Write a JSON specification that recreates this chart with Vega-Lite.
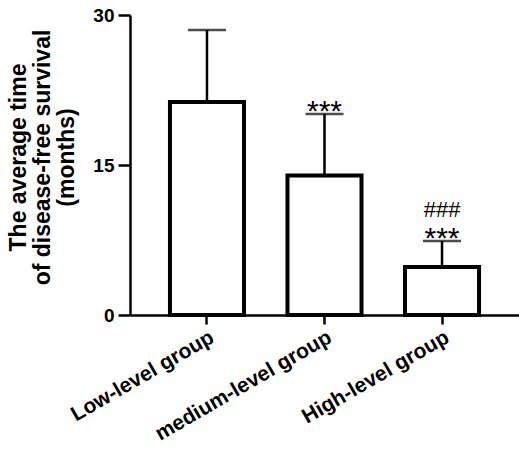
{
  "$schema": "https://vega.github.io/schema/vega-lite/v6.json",
  "width": 389,
  "height": 300,
  "autosize": "none",
  "padding": {"left": 130, "top": 15, "right": 0, "bottom": 134},
  "background": "white",
  "config": {
    "view": {"stroke": null},
    "font": "Liberation Sans",
    "axis": {"grid": false, "domainColor": "black", "tickColor": "black", "labelColor": "black", "titleColor": "black", "labelFont": "Liberation Sans", "titleFont": "Liberation Sans", "labelFontWeight": "bold", "titleFontWeight": "bold"}
  },
  "data": {
    "values": [
      {"group": "Low-level group", "mean": 21.3, "upper": 28.5, "star": "", "hash": ""},
      {"group": "medium-level group", "mean": 13.95, "upper": 20.1, "star": "***", "hash": ""},
      {"group": "High-level group", "mean": 4.8, "upper": 7.4, "star": "***", "hash": "###"}
    ]
  },
  "encoding": {
    "x": {
      "field": "group", "type": "nominal", "sort": null,
      "scale": {"paddingInner": 0.37, "paddingOuter": 0.34},
      "axis": {"title": null, "labelAngle": -30, "labelAlign": "right", "labelBaseline": "top", "labelFontSize": 21, "labelPadding": 2, "tickSize": 9, "tickWidth": 2.5, "domainWidth": 2.5, "labelLimit": 300}
    }
  },
  "layer": [
    {
      "mark": {"type": "rule", "stroke": "black", "strokeWidth": 2.5},
      "encoding": {
        "y": {"field": "mean", "type": "quantitative"},
        "y2": {"field": "upper"}
      }
    },
    {
      "mark": {"type": "tick", "color": "black", "size": 38, "thickness": 2.5},
      "encoding": {
        "y": {"field": "upper", "type": "quantitative"}
      }
    },
    {
      "mark": {"type": "bar", "fill": "white", "stroke": "black", "strokeWidth": 4},
      "encoding": {
        "y": {
          "field": "mean", "type": "quantitative",
          "scale": {"domain": [0, 30], "nice": false},
          "axis": {"values": [0, 15, 30], "title": ["The average time", "of disease-free survival", "(months)"], "titleFontSize": 23, "titleLineHeight": 24, "titlePadding": 14, "titleY": 142, "labelFontSize": 19, "labelPadding": 4, "tickSize": 12, "tickWidth": 2.5, "domainWidth": 2.5}
        }
      }
    },
    {
      "mark": {"type": "text", "fontSize": 30, "baseline": "alphabetic", "dy": 7, "font": "Liberation Sans", "color": "black"},
      "encoding": {
        "y": {"field": "upper", "type": "quantitative"},
        "text": {"field": "star"}
      }
    },
    {
      "mark": {"type": "text", "fontSize": 22, "baseline": "alphabetic", "dy": -24, "font": "Liberation Sans", "color": "black"},
      "encoding": {
        "y": {"field": "upper", "type": "quantitative"},
        "text": {"field": "hash"}
      }
    }
  ]
}
